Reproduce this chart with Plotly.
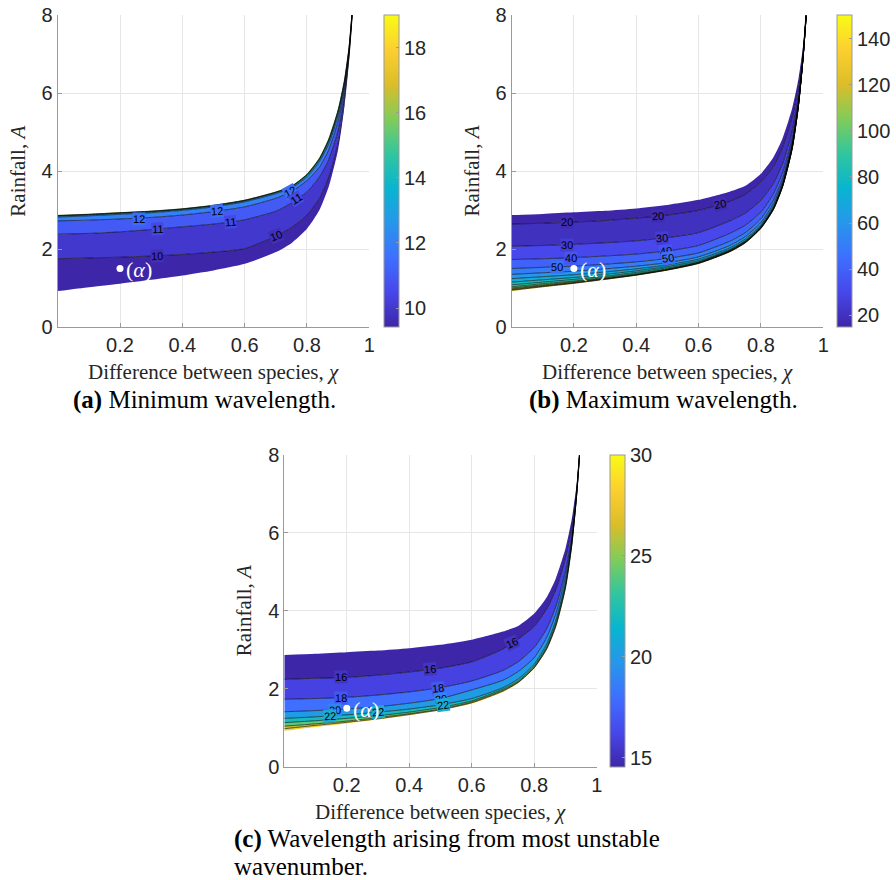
import plotly.graph_objects as go
from plotly.colors import sample_colorscale

# ---------------- data ----------------
CHI = [0.0, 0.1, 0.2, 0.3, 0.4, 0.5, 0.6, 0.7, 0.75, 0.8, 0.84, 0.87, 0.9, 0.92, 0.935, 0.945]

UPPER = [2.87, 2.90, 2.94, 2.98, 3.04, 3.13, 3.26, 3.47, 3.62, 3.93, 4.35, 4.85, 5.60, 6.35, 7.20, 8.10]
LOWER = [0.92, 1.02, 1.11, 1.21, 1.32, 1.45, 1.62, 1.92, 2.15, 2.52, 3.00, 3.60, 4.55, 5.65, 6.88, 7.95]

# (a) minimum wavelength, contour levels 10..16 (bottom -> top)
MIN_LEVELS = [10, 11, 12, 13, 14, 15, 16]
MIN_10 = [1.75, 1.77, 1.79, 1.82, 1.86, 1.92, 2.01, 2.33, 2.55, 2.87, 3.30, 3.85, 4.72, 5.76, 6.93, 7.96]
MIN_11 = [2.38, 2.40, 2.44, 2.50, 2.57, 2.64, 2.75, 2.97, 3.18, 3.47, 3.85, 4.30, 5.05, 5.92, 6.97, 8.00]
MIN_12 = [2.72, 2.74, 2.77, 2.81, 2.87, 2.96, 3.08, 3.30, 3.47, 3.76, 4.10, 4.55, 5.28, 6.08, 7.03, 8.03]
MIN_13 = [2.82, 2.85, 2.89, 2.93, 2.99, 3.08, 3.21, 3.42, 3.56, 3.85, 4.24, 4.70, 5.42, 6.17, 7.08, 8.05]
MIN_14 = [2.845, 2.875, 2.915, 2.955, 3.015, 3.105, 3.235, 3.445, 3.59, 3.89, 4.29, 4.77, 5.50, 6.25, 7.13, 8.07]
MIN_15 = [2.855, 2.885, 2.925, 2.965, 3.025, 3.115, 3.245, 3.455, 3.60, 3.905, 4.31, 4.80, 5.54, 6.29, 7.16, 8.08]
MIN_16 = [2.862, 2.892, 2.932, 2.972, 3.032, 3.122, 3.252, 3.462, 3.61, 3.915, 4.325, 4.82, 5.57, 6.32, 7.18, 8.09]
MIN_LINES = [MIN_10, MIN_11, MIN_12, MIN_13, MIN_14, MIN_15, MIN_16]
MIN_RANGE = [9.42, 19.0]
MIN_CB_TICKS = [10, 12, 14, 16, 18]

# (b) maximum wavelength, contour levels 140..20 (bottom -> top)
MAX_LEVELS = [140, 130, 120, 110, 100, 90, 80, 70, 60, 50, 40, 30, 20]
MAX_140 = [0.94, 1.032, 1.12, 1.22, 1.328, 1.458, 1.628, 1.928, 2.158, 2.528, 3.008, 3.608, 4.558, 5.652, 6.881, 7.951]
MAX_130 = [0.955, 1.045, 1.13, 1.23, 1.335, 1.465, 1.635, 1.935, 2.165, 2.535, 3.015, 3.615, 4.565, 5.655, 6.882, 7.953]
MAX_120 = [0.975, 1.06, 1.14, 1.24, 1.34, 1.47, 1.64, 1.94, 2.17, 2.54, 3.02, 3.62, 4.57, 5.655, 6.885, 7.955]
MAX_110 = [1.00, 1.08, 1.16, 1.25, 1.35, 1.48, 1.65, 1.95, 2.18, 2.55, 3.03, 3.63, 4.58, 5.66, 6.885, 7.96]
MAX_100 = [1.03, 1.11, 1.18, 1.27, 1.37, 1.49, 1.66, 1.96, 2.19, 2.56, 3.04, 3.64, 4.59, 5.66, 6.89, 7.96]
MAX_90 = [1.08, 1.15, 1.22, 1.30, 1.40, 1.52, 1.67, 1.97, 2.20, 2.57, 3.05, 3.65, 4.60, 5.67, 6.89, 7.97]
MAX_80 = [1.15, 1.21, 1.27, 1.35, 1.44, 1.55, 1.70, 1.99, 2.22, 2.59, 3.07, 3.67, 4.62, 5.68, 6.89, 7.97]
MAX_70 = [1.24, 1.29, 1.34, 1.41, 1.49, 1.59, 1.74, 2.03, 2.26, 2.62, 3.11, 3.71, 4.65, 5.69, 6.89, 7.98]
MAX_60 = [1.35, 1.39, 1.43, 1.49, 1.56, 1.65, 1.80, 2.09, 2.32, 2.68, 3.17, 3.76, 4.69, 5.71, 6.90, 7.99]
MAX_50 = [1.50, 1.53, 1.56, 1.61, 1.67, 1.76, 1.90, 2.20, 2.42, 2.78, 3.26, 3.84, 4.75, 5.74, 6.91, 8.00]
MAX_40 = [1.73, 1.75, 1.78, 1.82, 1.87, 1.95, 2.09, 2.40, 2.61, 2.95, 3.42, 3.98, 4.85, 5.80, 6.93, 8.02]
MAX_30 = [2.07, 2.09, 2.12, 2.16, 2.21, 2.29, 2.42, 2.72, 2.92, 3.25, 3.68, 4.20, 5.02, 5.90, 6.97, 8.04]
MAX_20 = [2.64, 2.66, 2.69, 2.73, 2.79, 2.87, 2.99, 3.22, 3.40, 3.72, 4.12, 4.62, 5.38, 6.15, 7.06, 8.07]
MAX_LINES = [MAX_140, MAX_130, MAX_120, MAX_110, MAX_100, MAX_90, MAX_80,
             MAX_70, MAX_60, MAX_50, MAX_40, MAX_30, MAX_20]
MAX_RANGE = [14.8, 150.4]
MAX_CB_TICKS = [20, 40, 60, 80, 100, 120, 140]

# (c) most unstable wavelength, contour levels 28..16 (bottom -> top)
WAVE_LEVELS = [28, 26, 24, 22, 20, 18, 16]
WAVE_28 = [0.975, 1.06, 1.14, 1.23, 1.34, 1.46, 1.64, 1.94, 2.17, 2.54, 3.02, 3.62, 4.58, 5.665, 6.885, 7.96]
WAVE_26 = [1.04, 1.10, 1.17, 1.26, 1.36, 1.48, 1.66, 1.96, 2.18, 2.55, 3.04, 3.65, 4.61, 5.68, 6.89, 7.97]
WAVE_24 = [1.13, 1.18, 1.24, 1.31, 1.40, 1.52, 1.69, 1.99, 2.21, 2.58, 3.08, 3.70, 4.66, 5.71, 6.90, 7.99]
WAVE_22 = [1.24, 1.28, 1.33, 1.40, 1.48, 1.59, 1.75, 2.03, 2.26, 2.63, 3.15, 3.78, 4.74, 5.75, 6.91, 8.01]
WAVE_20 = [1.41, 1.44, 1.48, 1.54, 1.63, 1.75, 1.97, 2.22, 2.45, 2.80, 3.32, 3.94, 4.88, 5.82, 6.93, 8.02]
WAVE_18 = [1.73, 1.75, 1.78, 1.84, 1.92, 2.03, 2.20, 2.47, 2.70, 3.06, 3.54, 4.13, 5.02, 5.90, 6.96, 8.03]
WAVE_16 = [2.24, 2.27, 2.29, 2.35, 2.43, 2.53, 2.69, 3.02, 3.28, 3.60, 4.05, 4.56, 5.35, 6.12, 7.04, 8.06]
WAVE_LINES = [WAVE_28, WAVE_26, WAVE_24, WAVE_22, WAVE_20, WAVE_18, WAVE_16]
WAVE_RANGE = [14.55, 30.0]
WAVE_CB_TICKS = [15, 20, 25, 30]

# contour labels: (text, chi, A, angle)
MIN_LABELS = [("12", 0.26, 2.78, -1), ("12", 0.51, 2.97, -4), ("12", 0.745, 3.47, -28),
              ("11", 0.32, 2.51, -2), ("11", 0.555, 2.69, -5), ("11", 0.765, 3.27, -32),
              ("10", 0.32, 1.83, -2), ("10", 0.70, 2.34, -22)]
MAX_LABELS = [("20", 0.177, 2.68, -1), ("20", 0.471, 2.84, -3), ("20", 0.669, 3.15, -12),
              ("30", 0.177, 2.11, -1), ("30", 0.482, 2.28, -5),
              ("40", 0.19, 1.77, -1), ("40", 0.496, 1.95, -8),
              ("50", 0.145, 1.53, -1), ("50", 0.503, 1.77, -8)]
WAVE_LABELS = [("16", 0.181, 2.29, -1), ("16", 0.466, 2.50, -4), ("16", 0.728, 3.17, -25),
               ("18", 0.181, 1.77, -1), ("18", 0.493, 2.02, -6),
               ("20", 0.163, 1.46, -2), ("20", 0.502, 1.75, -8),
               ("22", 0.145, 1.29, -2), ("22", 0.30, 1.40, -4), ("22", 0.507, 1.59, -8)]

POINT_CHI = 0.2
POINT_A = 1.5

X_TICKS = [0.2, 0.4, 0.6, 0.8, 1.0]
X_TICKTEXT = ["0.2", "0.4", "0.6", "0.8", "1"]
Y_TICKS = [0, 2, 4, 6, 8]

CAPTIONS = ["<b>(a)</b> Minimum wavelength.", "<b>(b)</b> Maximum wavelength.",
            "<b>(c)</b> Wavelength arising from most unstable", "wavenumber."]

# ---------------- style ----------------
PARULA = [[0.0, "#3e26a8"], [1/9, "#4747eb"], [2/9, "#3e6fff"], [3/9, "#2796eb"],
          [4/9, "#08b5d0"], [5/9, "#31c69f"], [6/9, "#81cc59"], [7/9, "#dcbd29"],
          [8/9, "#fccf30"], [1.0, "#f9fb15"]]
W, H = 896, 880
TXT = "#262626"
AXC = "#9a9a9a"
SANS = "Liberation Sans, Arial, sans-serif"
SERIF = "Liberation Serif, Times New Roman, serif"
SHAPE = dict(shape="spline", smoothing=0.6)

panels = [
    dict(name="a", levels=MIN_LEVELS, lines=MIN_LINES, rng=MIN_RANGE, cbt=MIN_CB_TICKS,
         increasing=True, labels=MIN_LABELS, px=(57.7, 369.3), py=(15, 327), cbx=384),
    dict(name="b", levels=MAX_LEVELS, lines=MAX_LINES, rng=MAX_RANGE, cbt=MAX_CB_TICKS,
         increasing=False, labels=MAX_LABELS, px=(511.5, 823.3), py=(15, 327), cbx=837),
    dict(name="c", levels=WAVE_LEVELS, lines=WAVE_LINES, rng=WAVE_RANGE, cbt=WAVE_CB_TICKS,
         increasing=False, labels=WAVE_LABELS, px=(284.3, 596.7), py=(455, 766.7), cbx=610),
]


def col(v, rng):
    t = (v - rng[0]) / (rng[1] - rng[0])
    t = min(max(t, 0.0), 1.0)
    return sample_colorscale(PARULA, [t])[0]


def mix(c1, c2):
    a = [float(s) for s in c1[c1.index("(") + 1:-1].split(",")]
    b = [float(s) for s in c2[c2.index("(") + 1:-1].split(",")]
    return "rgb(%d,%d,%d)" % tuple(round((u + v) / 2) for u, v in zip(a, b))


def paper_text(x, y, text, size, color, angle=0, xanchor="center", family=SERIF):
    return dict(x=x / W, y=1 - y / H, xref="paper", yref="paper", text=text, showarrow=False,
                xanchor=xanchor, yanchor="middle", textangle=angle,
                font=dict(family=family, size=size, color=color))


fig = go.Figure()
annotations = []
layout_axes = {}

for i, p in enumerate(panels):
    sfx = "" if i == 0 else str(i + 1)
    xa, ya = "x" + sfx, "y" + sfx
    cmin, cmax = p["rng"]
    if p["increasing"]:
        band_vals = [cmin] + p["levels"]
    else:
        band_vals = p["levels"] + [cmin]
    seq = [LOWER] + p["lines"] + [UPPER]
    band_cols = [col(v, p["rng"]) for v in band_vals]
    # filled bands
    fig.add_trace(go.Scatter(x=CHI, y=LOWER, mode="lines", line=dict(width=0, **SHAPE),
                             xaxis=xa, yaxis=ya, hoverinfo="skip"))
    for k in range(1, len(seq)):
        c = band_cols[k - 1]
        fig.add_trace(go.Scatter(x=CHI, y=seq[k], mode="lines",
                                 line=dict(width=0, color=c, **SHAPE),
                                 fill="tonexty", fillcolor=c, xaxis=xa, yaxis=ya,
                                 hoverinfo="skip"))
    # contour lines
    for ln in p["lines"]:
        fig.add_trace(go.Scatter(x=CHI, y=ln, mode="lines",
                                 line=dict(width=0.6, color="black", **SHAPE),
                                 xaxis=xa, yaxis=ya, hoverinfo="skip"))
    # contour labels (background = blend of the two neighbouring bands)
    for (t, cx, cy, ang) in p["labels"]:
        k = p["levels"].index(int(t))
        bg = mix(band_cols[k], band_cols[k + 1])
        annotations.append(dict(x=cx, y=cy, xref=xa, yref=ya, text=t, showarrow=False,
                                xanchor="center", yanchor="middle",
                                textangle=ang, bgcolor=bg, borderpad=0,
                                font=dict(family=SANS, size=11, color="black")))
    # marker point (alpha)
    fig.add_trace(go.Scatter(x=[POINT_CHI], y=[POINT_A], mode="markers",
                             marker=dict(size=7, color="white"), xaxis=xa, yaxis=ya,
                             hoverinfo="skip"))
    annotations.append(dict(x=POINT_CHI + 0.06, y=POINT_A - 0.03, xref=xa, yref=ya,
                            text="(<i>α</i>)", showarrow=False, xanchor="center",
                            yanchor="middle",
                            font=dict(family=SERIF, size=22, color="white")))
    # axes
    x0, x1 = p["px"]
    y0, y1 = p["py"]
    xd = [x0 / W, x1 / W]
    yd = [1 - y1 / H, 1 - y0 / H]
    layout_axes["xaxis" + sfx] = dict(domain=xd, anchor=ya, range=[0, 1], tickvals=X_TICKS,
                                      ticktext=X_TICKTEXT, showgrid=True, gridcolor="#e6e6e6",
                                      gridwidth=1, showline=True, linecolor=AXC, linewidth=1,
                                      ticks="inside", ticklen=4, tickcolor=AXC, zeroline=False,
                                      tickfont=dict(family=SANS, size=20, color=TXT))
    layout_axes["yaxis" + sfx] = dict(domain=yd, anchor=xa, range=[0, 8], tickvals=Y_TICKS,
                                      showgrid=True, gridcolor="#e6e6e6", gridwidth=1,
                                      showline=True, linecolor=AXC, linewidth=1,
                                      ticks="inside", ticklen=4, tickcolor=AXC, zeroline=False,
                                      tickfont=dict(family=SANS, size=20, color=TXT))
    # colorbar carrier
    fig.add_trace(go.Scatter(x=[POINT_CHI], y=[POINT_A], mode="markers", xaxis=xa, yaxis=ya,
                             hoverinfo="skip",
                             marker=dict(size=1, opacity=0, color=[cmin], cmin=cmin, cmax=cmax,
                                         colorscale=PARULA, showscale=True,
                                         colorbar=dict(x=p["cbx"] / W, xanchor="left", xpad=0,
                                                       y=1 - (y0 + y1) / 2 / H, yanchor="middle",
                                                       ypad=0, len=y1 - y0, lenmode="pixels",
                                                       thickness=15, thicknessmode="pixels",
                                                       outlinewidth=1, outlinecolor=AXC,
                                                       tickvals=p["cbt"], ticks="inside",
                                                       ticklen=3, tickcolor=AXC,
                                                       tickfont=dict(family=SANS, size=20,
                                                                     color=TXT)))))
    # axis titles
    annotations.append(paper_text((x0 + x1) / 2, y1 + 45,
                                  "Difference between species, <i>χ</i>", 21, TXT))
    annotations.append(paper_text(x0 - 40, (y0 + y1) / 2, "Rainfall, <i>A</i>", 21, TXT,
                                  angle=-90))

# captions
annotations.append(paper_text(204, 400, CAPTIONS[0], 25, "black"))
annotations.append(paper_text(663, 400, CAPTIONS[1], 25, "black"))
annotations.append(paper_text(232, 839, CAPTIONS[2], 25, "black", xanchor="left"))
annotations.append(paper_text(232, 866, CAPTIONS[3], 25, "black", xanchor="left"))

fig.update_layout(width=W, height=H,
                  margin=dict(l=0, r=0, t=0, b=0, autoexpand=False), showlegend=False,
                  paper_bgcolor="white", plot_bgcolor="white", annotations=annotations,
                  **layout_axes)
fig.write_html("out.html", config={"displayModeBar": False},
               post_script="document.body.style.margin='0px';")
